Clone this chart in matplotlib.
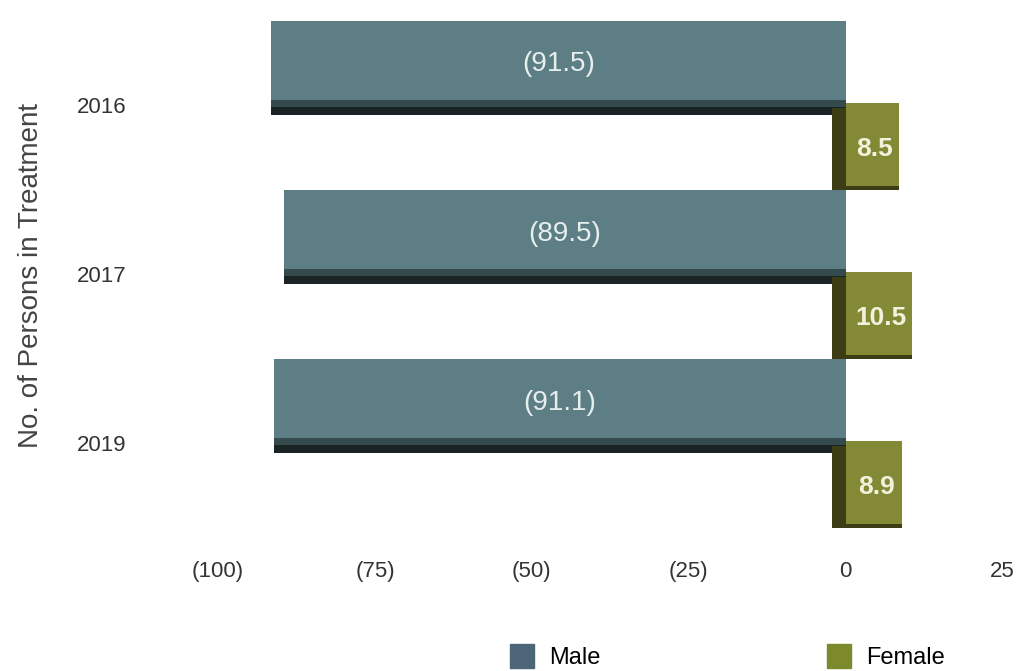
import numpy as np
import matplotlib.pyplot as plt
from matplotlib.patches import Patch

plt.rcParams['font.family'] = ['Liberation Sans', 'DejaVu Sans']

years = ['2016', '2017', '2019']
male = [-91.5, -89.5, -91.1]
female = [8.5, 10.5, 8.9]
xticks = [-100, -75, -50, -25, 0, 25]
xtick_labels = ['(100)', '(75)', '(50)', '(25)', '0', '25']

fig = plt.figure(figsize=(10.26, 6.71), dpi=100)
ax = fig.add_axes([0.16, 0.195, 0.83, 0.79])

y = np.arange(len(years))

# male bars: dark bevel underneath, then the face
mtop = y - 0.50
ax.barh(mtop, male, height=0.556, align='edge', color='#1a2424', zorder=1)
ax.barh(mtop, male, height=0.51, align='edge', color='#344a4c', zorder=2)
ax.barh(mtop, male, height=0.47, align='edge', color='#5c7e84', zorder=3)

# female bars: dark left side, then the face
ftop = y - 0.01
ax.barh(ftop + 0.025, np.array(female) + 2.2, left=-2.2, height=0.49, align='edge',
        color='#3c3c15', zorder=5)
ax.barh(ftop, female, height=0.49, align='edge', color='#83883300', zorder=6)
ax.barh(ftop, female, height=0.49, align='edge', color='#848935', zorder=7)

for i in range(len(years)):
    ax.text(male[i] / 2, mtop[i] + 0.26, '(%.1f)' % abs(male[i]), ha='center', va='center',
            color='#e6eeee', fontsize=20, zorder=8)
    ax.text(female[i] / 2 + 0.4, ftop[i] + 0.27, '%.1f' % female[i], ha='center', va='center',
            color='#f2f2dc', fontsize=19, fontweight='bold', zorder=8)

ax.set_xlim(-108.6, 27.1)
ax.set_ylim(2.574, -0.562)
ax.set_xticks(xticks)
ax.set_xticklabels(xtick_labels, fontsize=16, color='#333333')
ax.set_yticks(y)
ax.set_yticklabels(years, fontsize=16, color='#333333')
ax.tick_params(axis='x', length=0, pad=15)
ax.tick_params(axis='y', length=0, pad=27)
for s in ax.spines.values():
    s.set_visible(False)
ax.set_ylabel('No. of Persons in Treatment', fontsize=20, color='#444444', labelpad=24)

handles = [Patch(color='#4c6678', label='Male'), Patch(color='#7d8a2c', label='Female')]
fig.legend(handles=handles, loc='center left', bbox_to_anchor=(0.497, 0.022), ncol=2,
           frameon=False, fontsize=17, columnspacing=9.6, handlelength=1.0, handleheight=1.2,
           handletextpad=0.65, borderpad=0, borderaxespad=0)

fig.savefig('out.png', dpi=100)
